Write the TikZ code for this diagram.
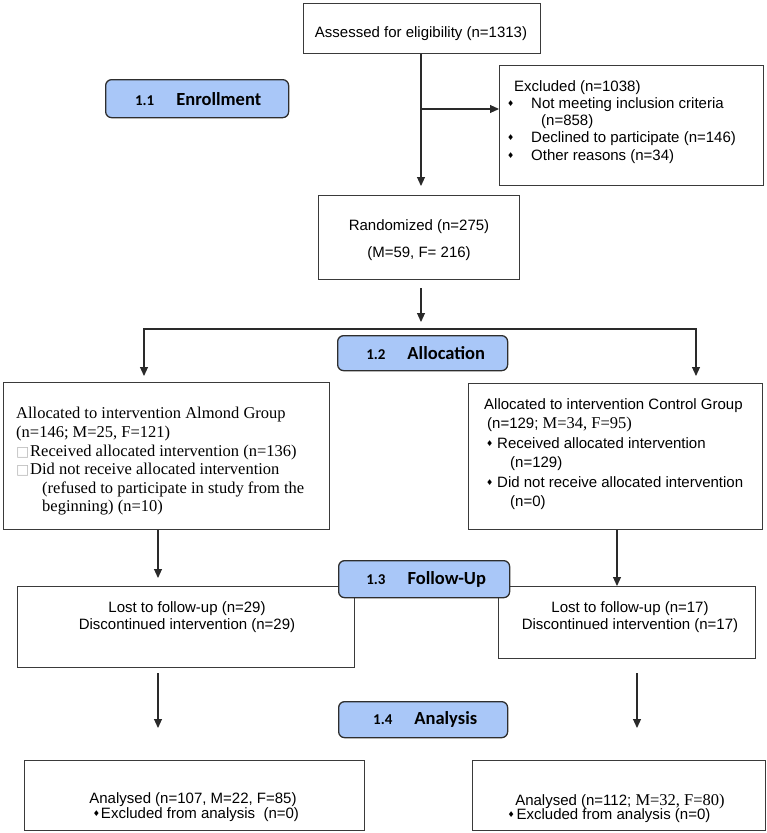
\documentclass[tikz,border=0pt]{standalone}
\usepackage{fontspec}
\setmainfont{Liberation Serif}
\setsansfont{Liberation Sans}
\newfontfamily\calib{Carlito}
\newfontfamily\dejavu{DejaVu Sans}
\usetikzlibrary{arrows.meta}
\definecolor{badgefill}{HTML}{A9C7F8}
\definecolor{badgeline}{HTML}{2E2E2E}
\definecolor{boxgray}{HTML}{3A3A3A}
\definecolor{linegray}{HTML}{2A2A2A}
\newcommand{\dbul}[1]{\makebox[#1][l]{\raisebox{1.5pt}{\dejavu\fontsize{8}{8}\selectfont ♦}}}
\newcommand{\sqbul}{\makebox[14pt][l]{\textcolor{gray!55}{\dejavu\fontsize{14}{14}\selectfont □}}}
\newcommand{\tnr}{\rmfamily\fontsize{16.5}{17}\selectfont}
\newcommand{\bnum}[1]{{\calib\bfseries\fontsize{15}{15}\selectfont #1}\hspace{22pt}}
\tikzset{
  box/.style={draw=boxgray, line width=1.2pt, anchor=north west, inner sep=0pt},
  badge/.style={draw=badgeline, fill=badgefill, rounded corners=6pt, line width=1.3pt, anchor=north west, inner sep=0pt},
  badgetext/.style={font=\calib\bfseries\fontsize{18.5}{19}\selectfont, inner sep=0pt},
  sf/.style={font=\sffamily\fontsize{15}{17}\selectfont, inner sep=0pt},
  rm/.style={font=\rmfamily\fontsize{16.5}{18.5}\selectfont, inner sep=0pt},
  conn/.style={draw=linegray, line width=1.1pt},
  arr/.style={conn, -{Triangle[width=8pt,length=9pt]}},
}
\begin{document}
\begin{tikzpicture}[x=1pt,y=-1pt]
\useasboundingbox (0,0) rectangle (767,833);

% ---------- boxes ----------
\node[box, minimum width=237pt, minimum height=50pt] (assess) at (303,3) {};
\node[box, minimum width=264pt, minimum height=120pt] (excl) at (499,65) {};
\node[box, minimum width=201pt, minimum height=84pt] (rand) at (318,195) {};
\node[box, minimum width=326pt, minimum height=147pt] (lal) at (3,382) {};
\node[box, minimum width=294pt, minimum height=146pt] (ral) at (468,383) {};
\node[box, minimum width=337pt, minimum height=81pt] (lfu) at (17,586) {};
\node[box, minimum width=257pt, minimum height=72pt] (rfu) at (498,586) {};
\node[box, minimum width=340pt, minimum height=70pt] (lan) at (24,760) {};
\node[box, minimum width=293pt, minimum height=70pt] (ran) at (472,760) {};

% ---------- badges ----------
\node[badge, minimum width=183pt, minimum height=38pt] (enroll) at (105,79) {};
\node[badgetext] (enrollT) at ([xshift=1pt]enroll.center) {\bnum{1.1}Enrollment};
\node[badge, minimum width=170pt, minimum height=35pt] (alloc) at (337,335) {};
\node[badgetext] (allocT) at ([xshift=3pt]alloc.center) {\bnum{1.2}Allocation};
\node[badge, minimum width=171pt, minimum height=37pt] (fu) at (338,560) {};
\node[badgetext] (fuT) at ([xshift=2pt]fu.center) {\bnum{1.3}Follow-Up};
\node[badge, minimum width=169pt, minimum height=36pt] (anal) at (338,701) {};
\node[badgetext] (analT) at ([xshift=2pt]anal.center) {\bnum{1.4}Analysis};

% ---------- texts ----------
\node[sf, anchor=base] (assessT) at (421,37) {Assessed for eligibility (n=1313)};

\node[sf, anchor=base west] (ex1) at (514,91) {Excluded (n=1038)};
\node[sf, anchor=base west] (ex2) at (507,108) {\dbul{24pt}Not meeting inclusion criteria};
\node[sf, anchor=base west] (ex3) at (541,125) {(n=858)};
\node[sf, anchor=base west] (ex4) at (507,142) {\dbul{24pt}Declined to participate (n=146)};
\node[sf, anchor=base west] (ex5) at (507,160) {\dbul{24pt}Other reasons (n=34)};

\node[sf, anchor=base] (rand1) at (419,230) {Randomized (n=275)};
\node[sf, anchor=base] (rand2) at (419,257) {(M=59, F= 216)};

\node[rm, anchor=base west] (la1) at (16,418) {Allocated to intervention Almond Group};
\node[rm, anchor=base west] (la2) at (16,437.5) {(n=146; M=25, F=121)};
\node[rm, anchor=base west] (la3) at (16,456) {\sqbul Received allocated intervention (n=136)};
\node[rm, anchor=base west] (la4) at (16,474.5) {\sqbul Did not receive allocated intervention};
\node[rm, anchor=base west] (la5) at (42,493) {(refused to participate in study from the};
\node[rm, anchor=base west] (la6) at (42,511) {beginning) (n=10)};

\node[sf, anchor=base west] (ra1) at (484,409) {Allocated to intervention Control Group};
\node[sf, anchor=base west] (ra2) at (487,428) {(n=129; {\tnr M=34, F=95)}};
\node[sf, anchor=base west] (ra3) at (486,448) {\dbul{11pt}Received allocated intervention};
\node[sf, anchor=base west] (ra4) at (510,467) {(n=129)};
\node[sf, anchor=base west] (ra5) at (486,487) {\dbul{11pt}Did not receive allocated intervention};
\node[sf, anchor=base west] (ra6) at (510,506) {(n=0)};

\node[sf, anchor=base] (lfu1) at (187,612) {Lost to follow-up (n=29)};
\node[sf, anchor=base] (lfu2) at (187,629) {Discontinued intervention (n=29)};
\node[sf, anchor=base] (rfu1) at (630,612) {Lost to follow-up (n=17)};
\node[sf, anchor=base] (rfu2) at (630,629) {Discontinued intervention (n=17)};

\node[sf, anchor=base] (lan1) at (193,803) {Analysed (n=107, M=22, F=85)};
\node[sf, anchor=base] (lan2) at (196,818) {\dbul{8pt}Excluded from analysis\ \ (n=0)};
\node[sf, anchor=base] (ran1) at (620,805) {Analysed (n=112; {\tnr M=32, F=80)}};
\node[sf, anchor=base] (ran2) at (609,819) {\dbul{9pt}Excluded from analysis (n=0)};

% ---------- connector coordinates ----------
\coordinate (t1) at (421,186);
\coordinate (b1) at (421,109);
\coordinate (r1) at (421,288);
\coordinate (r2) at (421,322);
\coordinate (sp) at (421,329);
\coordinate (lt) at (144,376);
\coordinate (rt) at (696,376);
\coordinate (l1) at (158,578);
\coordinate (r3) at (617,586);
\coordinate (l2a) at (158,673);
\coordinate (l2b) at (158,728);
\coordinate (r4a) at (637,673);
\coordinate (r4b) at (637,728);

% ---------- connectors ----------
\draw[arr] (assess.south -| t1) -- (t1);
\draw[arr] (b1) -- (b1 -| excl.west);
\draw[arr] (r1) -- (r2);
\draw[arr] (sp) -| (lt);
\draw[arr] (sp) -| (rt);
\draw[arr] (lal.south -| l1) -- (l1);
\draw[arr] (ral.south -| r3) -- (r3);
\draw[arr] (l2a) -- (l2b);
\draw[arr] (r4a) -- (r4b);
\end{tikzpicture}
\end{document}
